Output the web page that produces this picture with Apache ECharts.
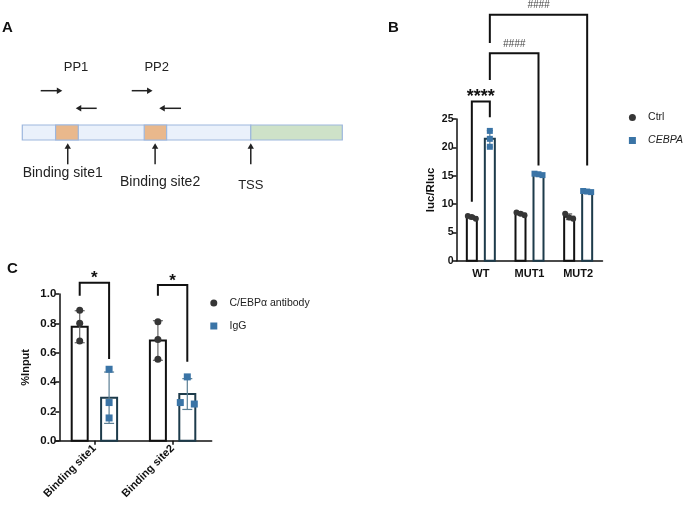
<!DOCTYPE html>
<html><head><meta charset="utf-8">
<script src="https://cdn.jsdelivr.net/npm/echarts@6.0.0/dist/echarts.min.js"></script>
<style>html,body{margin:0;padding:0;background:#fff}#c{width:685px;height:505px}</style>
</head><body><div id="c"></div>
<script>
// ---------------- Panel A (schematic, promoter units 0-100) ----------------
const promoterRange = [0, 100];
const bindingSites = [[10.4, 17.5], [38.1, 45.1]];
const tssPosition = 71.4;
const markerPositions = [14.2, 41.5, 71.4];
const markerLabels = ['Binding site1', 'Binding site2', 'TSS'];
const primerNames = ['PP1', 'PP2'];
const primerLabelPositions = [16.8, 42.0];
const primerForward = [[5.75, 12.5], [34.2, 40.7]];
const primerReverse = [[23.25, 16.7], [49.6, 42.8]];

// ---------------- Panel B ----------------
const bCategories = ['WT', 'MUT1', 'MUT2'];
const ctrlMean = [7.66, 8.3, 7.75];
const ctrlSD = [0.3, 0.25, 0.5];
const ctrlPoints = [[7.4, 7.9, 7.7], [8.0, 8.5, 8.3], [8.3, 7.4, 7.6]];
const cebpaMean = [21.5, 15.25, 12.2];
const cebpaSD = [1.45, 0.15, 0.15];
const cebpaPoints = [[22.9, 21.5, 20.1], [15.1, 15.35, 15.25], [12.1, 12.3, 12.2]];
const bYTicks = [0, 5, 10, 15, 20, 25];
const bBracketLabels = ['****', '####', '####'];
const bBracketEnds = [[[0, 0], [0, 1]], [[0, 1], [1, 1]], [[0, 1], [2, 1]]]; // [category, member]
const bBracketLevels = [[10.4, 28.1, 25.3], [31.9, 36.6, 16.8], [38.4, 43.4, 16.8]]; // leftBottom, top, rightBottom

// ---------------- Panel C ----------------
const cCategories = ['Binding site1', 'Binding site2'];
const antibodyMean = [0.777, 0.683];
const antibodySD = [0.109, 0.135];
const antibodyPoints = [[0.89, 0.80, 0.68], [0.81, 0.69, 0.555]];
const iggMean = [0.293, 0.318];
const iggSD = [0.175, 0.105];
const iggPoints = [[0.487, 0.26, 0.155], [0.435, 0.25, 0.26]];
const cYTicks = [0, 0.2, 0.4, 0.6, 0.8, 1.0];
const cBracketLabels = ['*', '*'];
const cBracketLevels = [[0.988, 1.077, 0.557], [0.988, 1.061, 0.539]];

// ---------------- layout / style (not data) ----------------
const FONT = 'Arial, "Liberation Sans", sans-serif';
const layoutB = { barW: 10, off: 9, sym: 6, capW: 6, spread: 4 };
const layoutC = { barW: 16, off: 14.7, sym: 7, capW: 10, spread: 14 };
const DARK = '#111111', TEAL = '#1d3b4b', GREYPT = '#363636', BLUEPT = '#3a74a6';
const SQUARE_ICON = 'path://M0 0H10V10H0Z';

function spreadOffsets(ys, size, d) {
  const offs = ys.map(() => 0);
  const idx = ys.map((y, i) => i).sort((a, b) => ys[a] - ys[b]);
  const clusters = []; let cur = [idx[0]];
  for (let k = 1; k < idx.length; k++) {
    if (ys[idx[k]] - ys[cur[cur.length - 1]] < size) cur.push(idx[k]);
    else { clusters.push(cur); cur = [idx[k]]; }
  }
  clusters.push(cur);
  clusters.forEach(c => c.forEach((i, j) => { offs[i] = (j - (c.length - 1) / 2) * d; }));
  return offs;
}

function barSeries(name, means, sds, pts, member, L, stroke, ptColor, errColor, shape, axis) {
  return {
    type: 'custom', name: name, xAxisIndex: axis, yAxisIndex: axis,
    itemStyle: { color: ptColor }, clip: false,
    data: means.map((m, i) => [i, m]),
    renderItem: function (params, api) {
      const i = params.dataIndex, cat = api.value(0), m = api.value(1);
      const top = api.coord([cat, m]), base = api.coord([cat, 0]);
      const cx = top[0] + (member === 0 ? -L.off : L.off);
      const ch = [];
      ch.push({ type: 'rect', shape: { x: cx - L.barW / 2, y: top[1], width: L.barW, height: base[1] - top[1] },
        style: { fill: '#ffffff', stroke: stroke, lineWidth: 2 } });
      const hi = api.coord([cat, m + sds[i]])[1], lo = api.coord([cat, m - sds[i]])[1];
      const es = { stroke: errColor, lineWidth: 1.2 };
      ch.push({ type: 'line', shape: { x1: cx, y1: hi, x2: cx, y2: lo }, style: es });
      ch.push({ type: 'line', shape: { x1: cx - L.capW / 2, y1: hi, x2: cx + L.capW / 2, y2: hi }, style: es });
      ch.push({ type: 'line', shape: { x1: cx - L.capW / 2, y1: lo, x2: cx + L.capW / 2, y2: lo }, style: es });
      const ys = pts[i].map(v => api.coord([cat, v])[1]);
      const offs = spreadOffsets(ys, L.sym, L.spread);
      ys.forEach((y, k) => {
        const x = cx + offs[k];
        if (shape === 'circle') ch.push({ type: 'circle', shape: { cx: x, cy: y, r: L.sym / 2 }, style: { fill: ptColor } });
        else ch.push({ type: 'rect', shape: { x: x - L.sym / 2, y: y - L.sym / 2, width: L.sym, height: L.sym }, style: { fill: ptColor } });
      });
      return { type: 'group', children: ch };
    }
  };
}

function bracketSeries(labels, ends, levels, L, axis, fonts) {
  return {
    type: 'custom', xAxisIndex: axis, yAxisIndex: axis, clip: false, silent: true,
    data: labels.map((_, i) => [i, 0]),
    renderItem: function (params, api) {
      const i = params.dataIndex;
      const e = ends[i], lv = levels[i];
      const xl = api.coord([e[0][0], 0])[0] + (e[0][1] === 0 ? -L.off : L.off);
      const xr = api.coord([e[1][0], 0])[0] + (e[1][1] === 0 ? -L.off : L.off);
      const yl = api.coord([0, lv[0]])[1], yt = api.coord([0, lv[1]])[1], yr = api.coord([0, lv[2]])[1];
      const lab = labels[i];
      const star = lab.indexOf('*') >= 0;
      return { type: 'group', children: [
        { type: 'polyline', shape: { points: [[xl, yl], [xl, yt], [xr, yt], [xr, yr]] },
          style: { stroke: DARK, lineWidth: 2, fill: null } },
        { type: 'text', style: { text: lab, x: (xl + xr) / 2, y: yt - (star ? 4 : 9), align: 'center',
          verticalAlign: 'middle', font: star ? fonts.star : fonts.hash, fill: star ? DARK : '#444' } }
      ] };
    }
  };
}

// Panel A series
const schematicLayout = { fwdDy: -34.3, revDy: -16.7, ppDy: -57.3, tipDy: 3.3, tailDy: 24.3,
  labelDx: [-5, 5, 0], labelDy: [32.7, 41.7, 45], labelSize: [14, 14, 13] };
function arrowH(x1, x2, y) {
  const dir = x2 > x1 ? 1 : -1;
  return [
    { type: 'line', shape: { x1: x1, y1: y, x2: x2 - dir * 4, y2: y }, style: { stroke: '#222', lineWidth: 1.5 } },
    { type: 'polygon', shape: { points: [[x2, y], [x2 - dir * 5.5, y - 3.2], [x2 - dir * 5.5, y + 3.2]] }, style: { fill: '#222' } }
  ];
}
const schematicSeries = {
  type: 'custom', xAxisIndex: 0, yAxisIndex: 0, clip: false, silent: true,
  data: [[0, 0]],
  renderItem: function (params, api) {
    const X = v => api.coord([v, 0])[0];
    const yb = api.coord([0, 0])[1], yt = api.coord([0, 1])[1];
    const S = schematicLayout;
    const edge = '#9db7de';
    const ch = [];
    ch.push({ type: 'rect', shape: { x: X(promoterRange[0]), y: yt, width: X(tssPosition) - X(promoterRange[0]), height: yb - yt },
      style: { fill: '#eaf1fb', stroke: edge, lineWidth: 1.2 } });
    bindingSites.forEach(b => ch.push({ type: 'rect', shape: { x: X(b[0]), y: yt, width: X(b[1]) - X(b[0]), height: yb - yt },
      style: { fill: '#e9b88c', stroke: edge, lineWidth: 1.2 } }));
    ch.push({ type: 'rect', shape: { x: X(tssPosition), y: yt, width: X(promoterRange[1]) - X(tssPosition), height: yb - yt },
      style: { fill: '#cee2c8', stroke: edge, lineWidth: 1.2 } });
    markerPositions.forEach((p, i) => {
      const x = X(p);
      ch.push({ type: 'line', shape: { x1: x, y1: yb + S.tailDy, x2: x, y2: yb + S.tipDy + 4 }, style: { stroke: '#222', lineWidth: 1.5 } });
      ch.push({ type: 'polygon', shape: { points: [[x, yb + S.tipDy], [x - 3.2, yb + S.tipDy + 5.5], [x + 3.2, yb + S.tipDy + 5.5]] }, style: { fill: '#222' } });
      ch.push({ type: 'text', style: { text: markerLabels[i], x: x + S.labelDx[i], y: yb + S.labelDy[i], align: 'center', verticalAlign: 'middle',
        font: S.labelSize[i] + 'px ' + FONT, fill: '#222' } });
    });
    primerNames.forEach((n, i) => {
      ch.push({ type: 'text', style: { text: n, x: X(primerLabelPositions[i]), y: yt + S.ppDy, align: 'center', verticalAlign: 'middle',
        font: '13px ' + FONT, fill: '#222' } });
      arrowH(X(primerForward[i][0]), X(primerForward[i][1]), yt + S.fwdDy).forEach(c => ch.push(c));
      arrowH(X(primerReverse[i][0]), X(primerReverse[i][1]), yt + S.revDy).forEach(c => ch.push(c));
    });
    return { type: 'group', children: ch };
  }
};

const axisLine = { show: true, lineStyle: { color: DARK, width: 1.5 } };
const option = {
  animation: false,
  backgroundColor: '#ffffff',
  graphic: [
    { type: 'text', left: 2, top: 20, style: { text: 'A', font: 'bold 15px ' + FONT, fill: '#111' } },
    { type: 'text', left: 388, top: 20, style: { text: 'B', font: 'bold 15px ' + FONT, fill: '#111' } },
    { type: 'text', left: 7, top: 261, style: { text: 'C', font: 'bold 15px ' + FONT, fill: '#111' } }
  ],
  grid: [
    { left: 22.3, top: 125, width: 320, height: 15, outerBoundsMode: 'none' },
    { left: 456.5, top: 119, width: 146, height: 141.7, outerBoundsMode: 'none' },
    { left: 55.3, top: 294, width: 156.4, height: 146.7, outerBoundsMode: 'none' }
  ],
  xAxis: [
    { gridIndex: 0, type: 'value', min: promoterRange[0], max: promoterRange[1], show: false },
    { gridIndex: 1, type: 'category', data: bCategories, axisLine: axisLine, axisTick: { show: false },
      axisLabel: { fontFamily: FONT, fontWeight: 'bold', fontSize: 11, color: DARK, margin: 8 } },
    { gridIndex: 2, type: 'category', data: cCategories, axisLine: axisLine,
      axisTick: { show: true, alignWithLabel: true, length: 4, lineStyle: { color: DARK, width: 1.5 } },
      axisLabel: { fontFamily: FONT, fontWeight: 'bold', fontSize: 11, color: DARK, rotate: 45, margin: 6 } }
  ],
  yAxis: [
    { gridIndex: 0, type: 'value', min: 0, max: 1, show: false },
    { gridIndex: 1, type: 'value', min: bYTicks[0], max: bYTicks[bYTicks.length - 1], interval: bYTicks[1] - bYTicks[0],
      axisLine: axisLine, axisTick: { show: true, length: 4, lineStyle: { color: DARK, width: 1.5 } }, splitLine: { show: false },
      axisLabel: { fontFamily: FONT, fontWeight: 'bold', fontSize: 10.5, color: DARK, margin: 3 },
      name: 'luc/Rluc', nameLocation: 'middle', nameGap: 20,
      nameTextStyle: { fontFamily: FONT, fontWeight: 'bold', fontSize: 11.5, color: DARK } },
    { gridIndex: 2, type: 'value', min: cYTicks[0], max: cYTicks[cYTicks.length - 1], interval: 0.2, offset: -4,
      axisLine: axisLine, axisTick: { show: true, length: 4, lineStyle: { color: DARK, width: 1.5 } }, splitLine: { show: false },
      axisLabel: { fontFamily: FONT, fontWeight: 'bold', fontSize: 11.5, color: DARK, margin: 3, formatter: v => v.toFixed(1) },
      name: '%Input', nameLocation: 'middle', nameGap: 28,
      nameTextStyle: { fontFamily: FONT, fontWeight: 'bold', fontSize: 11, color: DARK } }
  ],
  legend: [
    { data: [{ name: 'Ctrl', icon: 'circle' }, { name: 'CEBPA', icon: SQUARE_ICON, textStyle: { fontStyle: 'italic' } }],
      orient: 'vertical', left: 623.9, top: 107, itemWidth: 21.4, itemHeight: 7, itemGap: 12, selectedMode: false,
      symbolKeepAspect: true,
      textStyle: { fontFamily: FONT, fontSize: 10.5, color: '#222' } },
    { data: [{ name: 'C/EBPα antibody', icon: 'circle' }, { name: 'IgG', icon: SQUARE_ICON }],
      orient: 'vertical', left: 205.3, top: 292.5, itemWidth: 21.4, itemHeight: 7, itemGap: 12, selectedMode: false,
      symbolKeepAspect: true,
      textStyle: { fontFamily: FONT, fontSize: 10.5, color: '#222' } }
  ],
  series: [
    schematicSeries,
    barSeries('Ctrl', ctrlMean, ctrlSD, ctrlPoints, 0, layoutB, DARK, GREYPT, '#555', 'circle', 1),
    barSeries('CEBPA', cebpaMean, cebpaSD, cebpaPoints, 1, layoutB, TEAL, BLUEPT, '#5b7f94', 'rect', 1),
    bracketSeries(bBracketLabels, bBracketEnds, bBracketLevels, layoutB, 1, { star: 'bold 18px ' + FONT, hash: 'italic 10px ' + FONT }),
    barSeries('C/EBPα antibody', antibodyMean, antibodySD, antibodyPoints, 0, layoutC, DARK, GREYPT, '#666', 'circle', 2),
    barSeries('IgG', iggMean, iggSD, iggPoints, 1, layoutC, TEAL, BLUEPT, '#5b7f94', 'rect', 2),
    bracketSeries(cBracketLabels, cBracketLabels.map((_, i) => [[i, 0], [i, 1]]), cBracketLevels, layoutC, 2,
      { star: 'bold 17px ' + FONT, hash: 'italic 10px ' + FONT })
  ]
};
const chart = echarts.init(document.getElementById('c'));
chart.setOption(option);
</script></body></html>
